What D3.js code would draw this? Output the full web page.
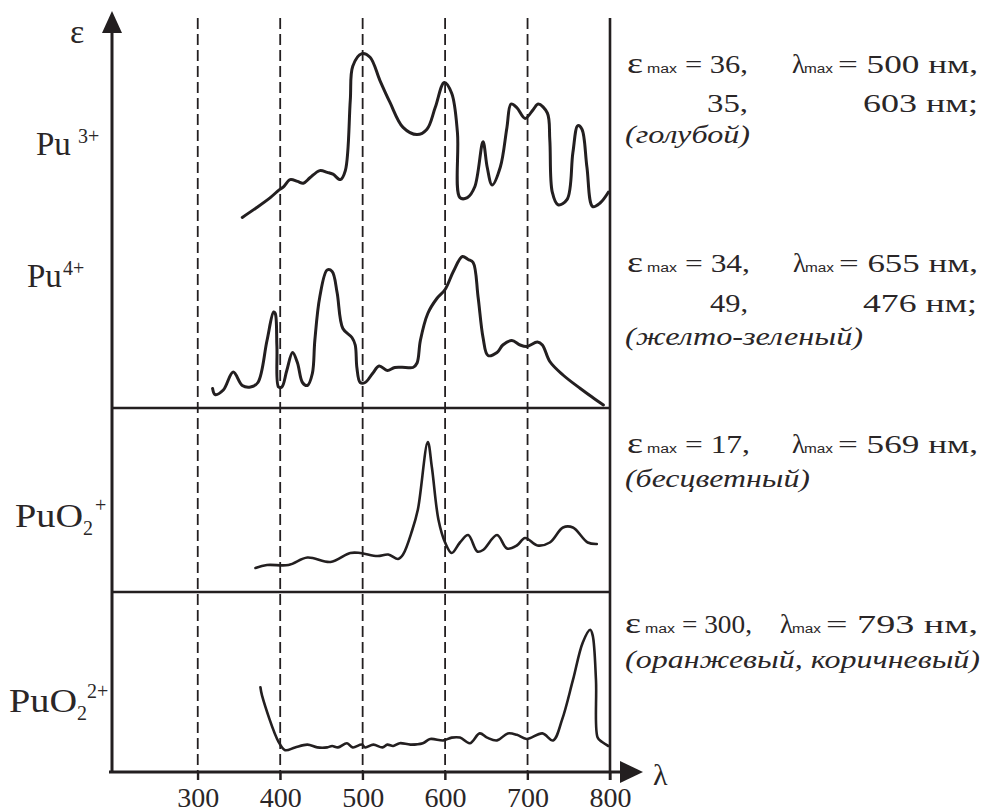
<!DOCTYPE html>
<html><head><meta charset="utf-8">
<script src="https://cdn.jsdelivr.net/npm/d3@7"></script>
<style>
html,body{margin:0;padding:0;background:#fff;}
svg{display:block;}
</style></head>
<body>
<svg id="chart" width="984" height="812"></svg>
<script>
// ---- DATA (wavelength nm, relative absorbance 0..100 inside each band) ----
const pu3Lambda = [354,370,388,398,404,412,421,428,436,448,457,464,473,479,485,488,499,509,521,533,549,566,578,588,599,608,615,618,627,636,646,651,657,667,675,680,687,697,707,713,724,727,730,737,748,755,761,766,772,779,788,798];
const pu3Value  = [7,12,18,22,24,28,27,26,29,33,32,31,28,33,72,91,98,96,83,71,57,53,56,68,82,76,54,18,18,24,49,35,25,35,57,70,68,62,67,70,65,50,21,14,17,43,58,56,35,13,15,21];

const pu4Lambda = [318,321,331,343,354,364,373,384,392,394,396,398,402,408,415,421,427,433,439,442,448,457,463,469,476,487,491,493,497,503,512,520,530,539,552,561,566,570,579,590,600,610,621,628,634,640,646,652,663,670,681,691,699,712,718,727,743,764,779,792];
const pu4Value  = [11,7,10,22,13,12,15,43,62,61,39,12,12,23,35,28,15,13,21,43,72,90,89,75,51,45,40,25,15,15,21,26,23,25,25,25,28,43,61,71,77,89,99,97,95,72,45,33,35,40,43,40,39,42,40,29,20,11,5,0];

const puo2Lambda = [370,384,410,433,461,485,497,518,531,543,549,560,567,579,584,592,600,608,618,628,639,646,663,675,687,697,712,727,743,755,773,784];
const puo2Value  = [8,10,10,15,12,18,18,16,17,14,17,33,47,92,75,40,25,18,25,30,19,20,30,21,23,28,23,25,35,35,25,24];

const puo22Lambda = [376,378,398,406,418,433,445,457,463,470,481,488,499,503,513,524,530,537,545,558,573,582,598,608,618,630,642,651,663,676,687,699,718,731,742,755,767,776,779,783,785,790,798];
const puo22Value  = [52,46,13,7,9,11,9,9,10,9,12,9,11,9,11,9,11,10,12,11,12,15,14,16,16,12,19,16,14,19,18,15,19,14,29,57,84,93,89,57,16,13,10];

const tickValues = [300,400,500,600,700,800];
const gridValues = [300,400,500,600,700];

// ---- LAYOUT ----
const svg = d3.select("#chart");
const ink = "#231f20";
const textInk = "#2a2627";
const serif = "'Liberation Serif','Times New Roman',serif";
const sans = "'Liberation Sans',Arial,sans-serif";

const x = d3.scaleLinear().domain([196, 800]).range([112, 610]);
const bands = [
  {name:"pu3",  lam:pu3Lambda,  val:pu3Value,  range:[230,50],  w:3},
  {name:"pu4",  lam:pu4Lambda,  val:pu4Value,  range:[405,255], w:3},
  {name:"puo2", lam:puo2Lambda, val:puo2Value, range:[580,430], w:2.6},
  {name:"puo22",lam:puo22Lambda,val:puo22Value,range:[760,620], w:2.6}
];

const axisY = 772, topY = 18, x0 = x(196), xR = x(800);

// dashed grid lines
svg.append("g").selectAll("line").data(gridValues).join("line")
  .attr("x1", d => x(d)).attr("x2", d => x(d))
  .attr("y1", topY).attr("y2", 780)
  .attr("stroke", ink).attr("stroke-width", 1.8)
  .attr("stroke-dasharray", "11,5");

// x axis ticks and labels with d3 axis
const xAxis = d3.axisBottom(x).tickValues(tickValues).tickSize(8).tickSizeOuter(0).tickFormat(d3.format("d"));
const gx = svg.append("g").attr("transform", `translate(0,${axisY})`).call(xAxis);
gx.select(".domain").remove();
gx.selectAll(".tick line").attr("stroke", ink).attr("stroke-width", 2);
gx.selectAll(".tick text").attr("y", 35).attr("dy", 0)
  .style("font-family", serif).attr("font-size", 28).attr("fill", textInk);

// right border
svg.append("line").attr("x1", xR).attr("x2", xR).attr("y1", topY).attr("y2", 780)
  .attr("stroke", ink).attr("stroke-width", 2.6);

// separators
[408, 592].forEach(yy => svg.append("line").attr("x1", x0).attr("x2", xR).attr("y1", yy).attr("y2", yy)
  .attr("stroke", ink).attr("stroke-width", 2.6));

// x axis line + arrow
svg.append("line").attr("x1", x0 - 3).attr("x2", 622).attr("y1", axisY).attr("y2", axisY)
  .attr("stroke", ink).attr("stroke-width", 2.8);
svg.append("path").attr("d", `M620,${axisY-11} L643,${axisY} L620,${axisY+11} Z`).attr("fill", ink);

// y axis line + arrow
svg.append("line").attr("x1", x0).attr("x2", x0).attr("y1", 30).attr("y2", axisY + 1)
  .attr("stroke", ink).attr("stroke-width", 3);
svg.append("path").attr("d", `M${x0},11 L${x0+10},33 L${x0-10},33 Z`).attr("fill", ink);

// curves
bands.forEach(b => {
  const y = d3.scaleLinear().domain([0,100]).range(b.range);
  const pts = b.lam.map((l,i) => [l, b.val[i]]);
  const line = d3.line().x(d => x(d[0])).y(d => y(d[1])).curve(d3.curveCatmullRom.alpha(0.5));
  svg.append("path").attr("d", line(pts)).attr("fill", "none")
    .attr("stroke", ink).attr("stroke-width", b.w).attr("stroke-linejoin", "round").attr("stroke-linecap","round");
});

// ---- TEXT helpers ----
function txt(xp, yp, s, o = {}) {
  const t = svg.append("text").attr("x", xp).attr("y", yp).text(s)
    .style("font-family", o.family || serif).attr("font-size", o.size || 26)
    .attr("fill", textInk);
  if (o.italic) t.attr("font-style", "italic");
  if (o.anchor) t.attr("text-anchor", o.anchor);
  if (o.width) t.attr("textLength", o.width).attr("lengthAdjust", "spacingAndGlyphs");
  return t;
}

// axis labels
txt(70, 43, "ε", {size: 34});
txt(653, 785, "λ", {size: 30});

// left species labels
txt(36, 155, "Pu", {size: 33});
txt(78, 143, "3+", {size: 20});
txt(27, 287, "Pu", {size: 33});
txt(63, 275, "4+", {size: 20});
txt(15, 527, "PuO", {size: 33, width: 68});
txt(83, 535, "2", {size: 20});
txt(95, 512, "+", {size: 20});
txt(9, 712, "PuO", {size: 33, width: 68});
txt(77, 720, "2", {size: 20});
txt(87, 698, "2+", {size: 20});

// right annotations
function header(yb, eps, lam, o) {
  txt(o.ex, yb, "ε", {size: 30, width: 16});
  txt(o.ex + 20, yb, "max", {family: sans, size: 12, width: 30});
  txt(o.eq, yb, eps, {size: 26, width: o.eqW});
  txt(o.lx, yb, "λ", {size: 27, width: 13});
  txt(o.lx + 12, yb, "max", {family: sans, size: 12, width: 29});
  txt(o.lx + 46, yb, lam, {size: 26, width: 978 - (o.lx + 46)});
}
header(73, "= 36,", "= 500 нм,", {ex: 627, eq: 685, eqW: 63, lx: 792});
txt(748, 112, "35,", {size: 26, anchor: "end", width: 41});
txt(978, 112, "603 нм;", {size: 26, anchor: "end", width: 115});
txt(625, 143, "(голубой)", {size: 26, italic: true, width: 125});

header(272, "= 34,", "= 655 нм,", {ex: 627, eq: 685, eqW: 65, lx: 793});
txt(748, 312, "49,", {size: 26, anchor: "end", width: 38});
txt(977, 312, "476 нм;", {size: 26, anchor: "end", width: 114});
txt(625, 345, "(желто-зеленый)", {size: 26, italic: true, width: 238});

header(453, "= 17,", "= 569 нм,", {ex: 627, eq: 685, eqW: 65, lx: 792});
txt(625, 487, "(бесцветный)", {size: 26, italic: true, width: 185});

header(633, "= 300,", "= 793 нм,", {ex: 625, eq: 682, eqW: 70, lx: 780});
txt(625, 668, "(оранжевый, коричневый)", {size: 26, italic: true, width: 355});
</script>
</body></html>
